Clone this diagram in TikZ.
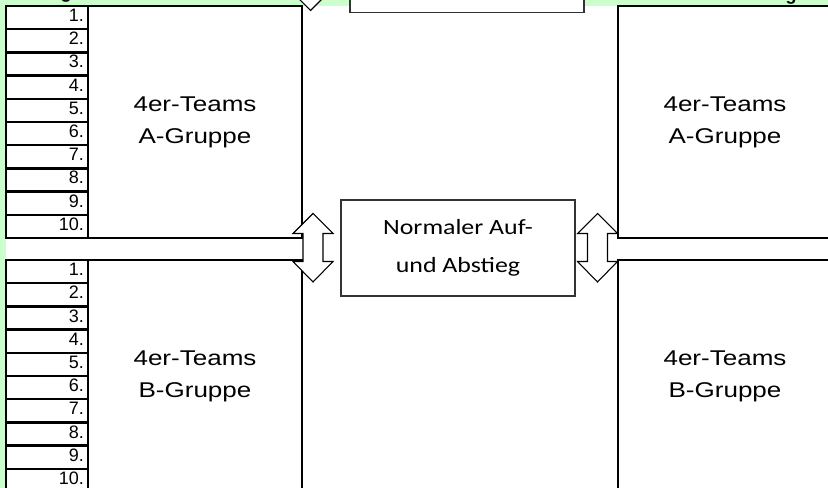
\documentclass[tikz,border=0pt]{standalone}
\usepackage{graphicx}
\usepackage{fontspec}
\setmainfont{Liberation Sans}
\newfontfamily\boxfont{Carlito}
\newcommand\widetext[2][1.22]{\scalebox{#1}[1]{#2}}
\definecolor{cellgreen}{HTML}{CCFFCC}
\tikzset{
	thickline/.style={line width=1.9pt},
	rankcell/.style={draw,thickline,minimum width=61.5pt,minimum height=17.4pt,inner xsep=3pt,inner ysep=0pt,text width=55.5pt,text height=10pt,text depth=4pt,align=right,font=\fontsize{13.5}{15}\selectfont},
	teambox/.style={draw,thickline,minimum width=160.5pt,minimum height=174pt,align=center,font=\fontsize{16}{24}\selectfont},
	textbox/.style={draw=black!80,line width=0.8pt,fill=white,align=center,minimum width=175.5pt,minimum height=72pt,font=\boxfont\fontsize{16.3}{28.5}\selectfont},
	arrowbox/.style={draw,line width=0.8pt,fill=white,line join=miter},
}
\begin{document}
\begin{tikzpicture}[x=0.75pt,y=-0.75pt]
	\useasboundingbox (0,0) rectangle (828,488);
	\fill[cellgreen] (0,0) rectangle (828,488);
	\fill[white] (6,6) rectangle (828,488);
	% groups
	\node[teambox] (teamsAL) at (195,122) {\widetext{4er-Teams}\\\widetext{A-Gruppe}};
	\node[teambox] (teamsBL) at (195,376) {\widetext{4er-Teams}\\\widetext{B-Gruppe}};
	\node[teambox] (teamsAR) at (725,122) {\widetext{4er-Teams}\\\widetext{A-Gruppe}};
	\node[teambox] (teamsBR) at (725,376) {\widetext{4er-Teams}\\\widetext{B-Gruppe}};
	% places
	\foreach \g/\gy in {A/6,B/260}
	\foreach \k in {1,...,10}
	\node[rankcell] (rank\g\k) at (47,{\gy+23.2*\k-11.6}) {\k.};
	% boxes
	\node[textbox] (aufab) at (458,248) {\widetext[1.19]{Normaler Auf-}\\\widetext[1.19]{und Abstieg}};
	\node[textbox,anchor=south] (topbox) at (467,13) {};
	% arrows
	\foreach \cx in {313,597.5}
	\draw[arrowbox] (\cx,213.5) -- ++(20,20) -- ++(-10,0) -- ++(0,28) -- ++(10,0) -- ++(-20,20.5)
	-- ++(-20,-20.5) -- ++(10,0) -- ++(0,-28) -- ++(-10,0) -- cycle;
	\draw[arrowbox] (290.5,-9.5) -- (310.5,10.5) -- (330.5,-9.5);
	% cut titles
	\node[font=\bfseries\fontsize{13.5}{15}\selectfont,anchor=base] (titleL) at (66,-1) {g};
	\node[font=\bfseries\fontsize{13.5}{15}\selectfont,anchor=base] (titleR) at (791,0.5) {g};
\end{tikzpicture}
\end{document}
